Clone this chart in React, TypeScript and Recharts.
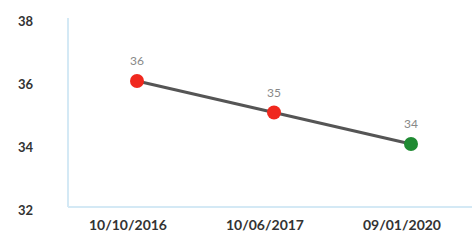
import React from "react";
import { LineChart, Line, XAxis, YAxis, LabelList } from "recharts";

const dates = ["10/10/2016", "10/06/2017", "09/01/2020"];
const values = [36, 35, 34];
const yTicks = [32, 34, 36, 38];

const data = dates.map((d, i) => ({ date: d, value: values[i] }));

const DOT_COLORS = ["#f0281e", "#f0281e", "#1f8a32"];
const FONT = "Lato, 'Open Sans', sans-serif";

const Dot = (props: any) => {
  const { cx, cy, index } = props;
  if (cx == null || cy == null) return null;
  return <circle cx={cx} cy={cy} r={7} fill={DOT_COLORS[index]} stroke="none" />;
};

const XTick = (props: any) => {
  const { x, y, payload } = props;
  return (
    <text x={x - 9} y={y + 15} textAnchor="middle" fontFamily={FONT} fontSize={14} fontWeight={700} fill="#333">
      {payload.value}
    </text>
  );
};

export default function App() {
  return (
    <div style={{ position: "absolute", left: 0, top: 0, width: 472, height: 240, overflow: "hidden", background: "#fff" }}>
      <LineChart width={480} height={240} data={data} margin={{ top: 18, right: 0, bottom: 0, left: 0 }}>
        <XAxis
          dataKey="date"
          height={33}
          tickLine={false}
          padding={{ left: 69, right: 69 }}
          axisLine={{ stroke: "#d4e9f5", strokeWidth: 2 }}
          tick={<XTick />}
          interval={0}
        />
        <YAxis
          width={68}
          domain={[32, 38]}
          ticks={yTicks}
          tickLine={false}
          tickSize={0}
          tickMargin={35}
          axisLine={{ stroke: "#d4e9f5", strokeWidth: 2 }}
          tick={{ fontFamily: FONT, fontSize: 13, fontWeight: 700, fill: "#333", dy: 3 }}
          interval={0}
        />
        <Line
          dataKey="value"
          stroke="#555"
          strokeWidth={3}
          dot={<Dot />}
          activeDot={false}
          isAnimationActive={false}
        >
          <LabelList dataKey="value" position="top" offset={16} fill="#888" fontSize={12} fontFamily={FONT} />
        </Line>
      </LineChart>
    </div>
  );
}
